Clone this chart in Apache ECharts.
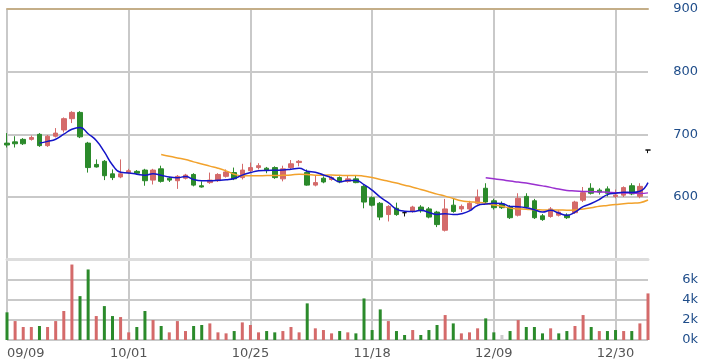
<!DOCTYPE html>
<html>
<head>
<meta charset="utf-8">
<script src="https://cdn.jsdelivr.net/npm/echarts@6/dist/echarts.min.js"></script>
<style>
html,body{margin:0;padding:0;background:#fff;}
#chart{width:707px;height:363px;}
</style>
</head>
<body>
<div id="chart"></div>
<script>
const dates = ['09/09','09/10','09/11','09/12','09/16','09/17','09/18','09/19','09/20','09/23','09/24','09/25','09/26','09/27','09/30',
  '10/01','10/02','10/03','10/04','10/07','10/08','10/09','10/14','10/15','10/16','10/17','10/18','10/21','10/22','10/23',
  '10/25','10/28','10/29','10/30','10/31','11/01','11/04','11/05','11/06','11/07','11/08','11/11','11/12','11/13','11/14',
  '11/18','11/19','11/20','11/21','11/22','11/25','11/26','11/27','11/28','11/29','12/02','12/03','12/04','12/05','12/06',
  '12/09','12/10','12/11','12/12','12/13','12/16','12/17','12/18','12/19','12/20','12/23','12/24','12/25','12/26','12/27',
  '12/30','12/31','01/02','01/03','01/06'];
const opens  = [686,688,692,692,700,682,697,707,725,735,686,652,657,637,632,639,641,643,627,645,
                630,626,630,636,618,623,626,633,639,631,642,647,646,647,629,647,655,639,619,630,
                628,631,625,629,617,599,590,572,582,575,577,584,581,576,547,587,581,581,590,614,
                594,589,584,571,601,594,570,569,571,571,575,595,614,611,613,601,603,618,601,675];
const closes = [683,685,685,695,682,697,702,725,735,696,647,648,634,631,637,642,638,626,643,625,
                627,633,635,619,616,627,636,640,629,643,647,650,643,631,645,653,657,619,623,624,
                631,624,629,623,592,587,568,585,572,575,584,578,568,556,581,577,585,590,600,592,
                583,583,567,598,584,567,564,581,576,567,592,607,606,608,606,603,615,605,617,675];
const lows   = [679,679,683,690,680,680,695,703,718,694,639,647,627,627,630,637,636,618,620,623,
                624,613,628,617,615,621,624,631,627,628,640,644,638,629,625,645,649,618,617,622,
                626,622,623,622,582,585,563,561,570,569,575,575,566,552,545,575,576,579,588,590,
                580,581,565,569,582,565,562,567,569,565,573,592,604,604,601,598,600,603,598,670];
const highs  = [702,697,694,698,702,699,710,727,737,737,688,660,659,644,660,645,643,645,645,650,
                632,635,637,638,625,639,638,644,647,653,655,654,648,649,650,659,659,644,634,633,
                633,633,634,634,619,601,592,587,591,576,586,587,584,578,597,598,588,594,612,622,
                597,593,587,606,606,597,573,584,579,574,594,616,622,614,617,612,617,622,622,675];
const volumes = [2750,1880,1290,1290,1390,1290,1880,2880,7500,4360,7010,2380,3370,2380,2280,760,1290,2880,1980,1390,
                 760,1880,890,1390,1490,1650,760,660,890,1750,1490,760,890,760,890,1290,760,3640,1160,990,
                 660,890,760,660,4130,990,3040,1880,890,500,990,500,990,1490,2480,1650,660,760,1160,2150,
                 760,500,890,1980,1290,1290,660,1160,660,890,1390,2480,1290,890,890,990,890,890,1650,4630];
// 1 = up vs previous close, -1 = down, 0 = unchanged
const volSign = [-1,1,1,1,-1,1,1,1,1,-1,-1,1,-1,-1,1,1,-1,-1,1,-1,
                 1,1,1,-1,-1,1,1,1,-1,1,1,1,-1,-1,1,1,1,-1,1,1,
                 1,-1,1,-1,-1,-1,-1,1,-1,-1,1,-1,-1,-1,1,-1,1,1,1,-1,
                 -1,0,-1,1,-1,-1,-1,1,-1,-1,1,1,-1,1,-1,-1,1,-1,1,1];
const priceTicks = [500,900,100];
const volTicks = [0,8000,2000];
const maPeriods = [5,20,60];

function ma(n){
  return closes.map((c,i)=>{
    if(i < n-1) return '-';
    let s=0; for(let k=i-n+1;k<=i;k++) s+=closes[k];
    return +(s/n).toFixed(2);
  });
}

const UP='#d46a6a', DOWN='#2b8a2b', FLAT='#cccccc';
const candle = dates.map((d,i)=>[opens[i],closes[i],lows[i],highs[i]]);
const vol = volumes.map((v,i)=>({value:v,itemStyle:{color: volSign[i]>0?UP:(volSign[i]<0?DOWN:FLAT)}}));
const every15 = (idx)=> idx % 15 === 0;
const FONT = 'DejaVu Sans';
const GRIDC = '#c9c9c9';

const chart = echarts.init(document.getElementById('chart'), null, {renderer:'canvas'});
chart.setOption({
  animation:false,
  grid:[
    {left:7,right:59,top:9,height:250.7},
    {left:7,right:59,top:259.5,height:80.5}
  ],
  xAxis:[
    {type:'category',gridIndex:0,data:dates,boundaryGap:false,position:'top',
     axisLine:{show:true,lineStyle:{color:'#c4ae88',width:2}},axisTick:{show:false},
     axisLabel:{show:false,interval:every15},
     splitLine:{show:true,interval:every15,lineStyle:{color:GRIDC,width:2}}},
    {type:'category',gridIndex:1,data:dates,boundaryGap:false,
     axisLine:{show:false},axisTick:{show:false},
     axisLabel:{show:true,interval:every15,color:'#555',fontSize:13,fontFamily:FONT,margin:7,alignMinLabel:'left'},
     splitLine:{show:true,interval:every15,lineStyle:{color:GRIDC,width:2}}},
    {type:'category',gridIndex:1,data:dates,boundaryGap:false,position:'top',
     axisLine:{show:true,lineStyle:{color:'#dddddd',width:3}},axisTick:{show:false},axisLabel:{show:false},splitLine:{show:false}}
  ],
  yAxis:[
    {type:'value',gridIndex:0,position:'right',min:priceTicks[0],max:priceTicks[1],interval:priceTicks[2],
     axisLine:{show:false},axisTick:{show:false},
     axisLabel:{showMinLabel:false,align:'right',margin:50,color:'#1f4d8a',fontSize:13,fontFamily:FONT},
     splitLine:{show:true,lineStyle:{color:GRIDC,width:2}}},
    {type:'value',gridIndex:1,position:'right',min:volTicks[0],max:volTicks[1],interval:volTicks[2],
     axisLine:{show:false},axisTick:{show:false},
     axisLabel:{showMaxLabel:false,align:'right',margin:50,color:'#1f4d8a',fontSize:13,fontFamily:FONT,
       formatter:(v)=>(v/1000)+'k'},
     splitLine:{show:true,lineStyle:{color:GRIDC,width:2}}}
  ],
  series:[
    {type:'candlestick',xAxisIndex:0,yAxisIndex:0,data:candle,barWidth:5,clip:false,z:3,
     itemStyle:{color:UP,color0:DOWN,borderColor:UP,borderColor0:DOWN,borderColorDoji:'#111',borderWidth:1}},
    {type:'line',xAxisIndex:0,yAxisIndex:0,data:ma(maPeriods[0]),smooth:true,showSymbol:false,
     lineStyle:{color:'#1414c8',width:1.5},z:6},
    {type:'line',xAxisIndex:0,yAxisIndex:0,data:ma(maPeriods[1]),smooth:true,showSymbol:false,
     lineStyle:{color:'#f2a22c',width:1.5},z:5},
    {type:'line',xAxisIndex:0,yAxisIndex:0,data:ma(maPeriods[2]),smooth:true,showSymbol:false,
     lineStyle:{color:'#9a30d0',width:1.5},z:5},
    {type:'bar',xAxisIndex:1,yAxisIndex:1,data:vol,barWidth:3,clip:false,z:3}
  ]
});
</script>
</body>
</html>
